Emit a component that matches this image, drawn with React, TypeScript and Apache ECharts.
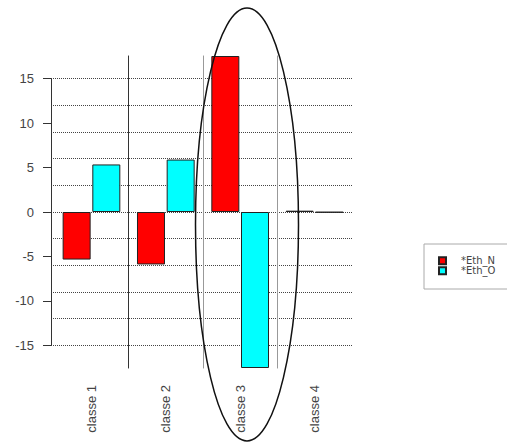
import React, { useEffect, useRef } from "react";
import * as echarts from "echarts";

const categories = ["classe 1", "classe 2", "classe 3", "classe 4"];
const seriesNames = ["*Eth_N", "*Eth_O"];
const ethN = [-5.35, -5.9, 17.55, 0.15];
const ethO = [5.35, 5.9, -17.55, -0.05];
const labelTicks = [-15, 15]; // labelled axis range (step 5)
const gridRange = [-15, 15]; // dotted gridlines (step 3)
const separatorPositions = [1, 2, 3];
const separatorExtent = [-17.6, 17.6];

export default function App() {
  const ref = useRef<HTMLDivElement>(null);
  useEffect(() => {
    if (!ref.current) return;
    const chart = echarts.init(ref.current, null, { renderer: "svg" });
    const font = "Liberation Sans, Arial, sans-serif";
    const sepColors = ["#333", "#999", "#999"];
    chart.setOption({
      animation: false,
      backgroundColor: "#fff",
      grid: [
        { left: 54.3, top: 52, width: 297.4, height: 320 },
        { left: 51, top: 78.7, width: 301, height: 266.7 },
      ],
      xAxis: [
        {
          type: "category",
          gridIndex: 0,
          data: categories,
          axisLine: { show: false },
          axisTick: { show: false },
          splitLine: { show: false },
          axisLabel: {
            rotate: 90,
            margin: 13,
            fontSize: 13,
            color: "#444",
            fontFamily: font,
          },
        },
        { type: "value", gridIndex: 0, min: 0, max: 4, show: false },
        { type: "value", gridIndex: 1, min: 0, max: 1, show: false },
      ],
      yAxis: [
        { type: "value", gridIndex: 0, min: -18, max: 18, show: false },
        {
          type: "value",
          gridIndex: 1,
          position: "left",
          min: gridRange[0],
          max: gridRange[1],
          interval: 3,
          axisLine: { show: false },
          axisTick: { show: false },
          axisLabel: { show: false },
          splitLine: {
            show: true,
            lineStyle: { type: "dotted", color: "#444", width: 1 },
          },
        },
        {
          type: "value",
          gridIndex: 1,
          position: "left",
          offset: 0,
          min: labelTicks[0],
          max: labelTicks[1],
          interval: 5,
          axisLine: { show: true, onZero: false, lineStyle: { color: "#333", width: 1 } },
          axisTick: { show: true, length: 8, lineStyle: { color: "#333" } },
          splitLine: { show: false },
          axisLabel: {
            margin: 17,
            fontSize: 13,
            color: "#444",
            fontFamily: font,
          },
        },
      ],
      legend: {
        orient: "vertical",
        left: 424,
        top: 244,
        data: seriesNames,
        icon: "rect",
        itemWidth: 7,
        itemHeight: 7,
        itemGap: 0,
        borderColor: "#aaa",
        borderWidth: 1,
        padding: [11.7, 40, 13.3, 14],
        textStyle: {
          fontSize: 10,
          lineHeight: 9,
          color: "#444",
          fontFamily: "DejaVu Sans, sans-serif",
          padding: [0, 0, 0, 10],
        },
      },
      graphic: [
        {
          type: "ellipse",
          shape: { cx: 247, cy: 224.5, rx: 51.5, ry: 216.5 },
          style: { fill: "none", stroke: "#111", lineWidth: 1.5 },
          z: 100,
        },
      ],
      series: [
        {
          name: seriesNames[0],
          type: "bar",
          xAxisIndex: 0,
          yAxisIndex: 0,
          data: ethN,
          barWidth: 28,
          barGap: "6%",
          itemStyle: { color: "#FF0000", borderColor: "#222", borderWidth: 1 },
        },
        {
          name: seriesNames[1],
          type: "bar",
          xAxisIndex: 0,
          yAxisIndex: 0,
          data: ethO,
          barWidth: 28,
          barGap: "6%",
          itemStyle: { color: "#00FFFF", borderColor: "#222", borderWidth: 1 },
        },
        {
          name: "separators",
          type: "line",
          xAxisIndex: 1,
          yAxisIndex: 0,
          data: [],
          markLine: {
            silent: true,
            symbol: ["none", "none"],
            label: { show: false },
            data: separatorPositions.map((p, i) => [
              {
                coord: [p, separatorExtent[1]],
                lineStyle: { color: sepColors[i], width: 1, type: "solid" },
              },
              { coord: [p, separatorExtent[0]] },
            ]),
          },
        },
      ],
    });
    return () => chart.dispose();
  }, []);
  return (
    <div
      ref={ref}
      style={{ position: "fixed", left: 0, top: 0, width: 507, height: 443 }}
    />
  );
}
